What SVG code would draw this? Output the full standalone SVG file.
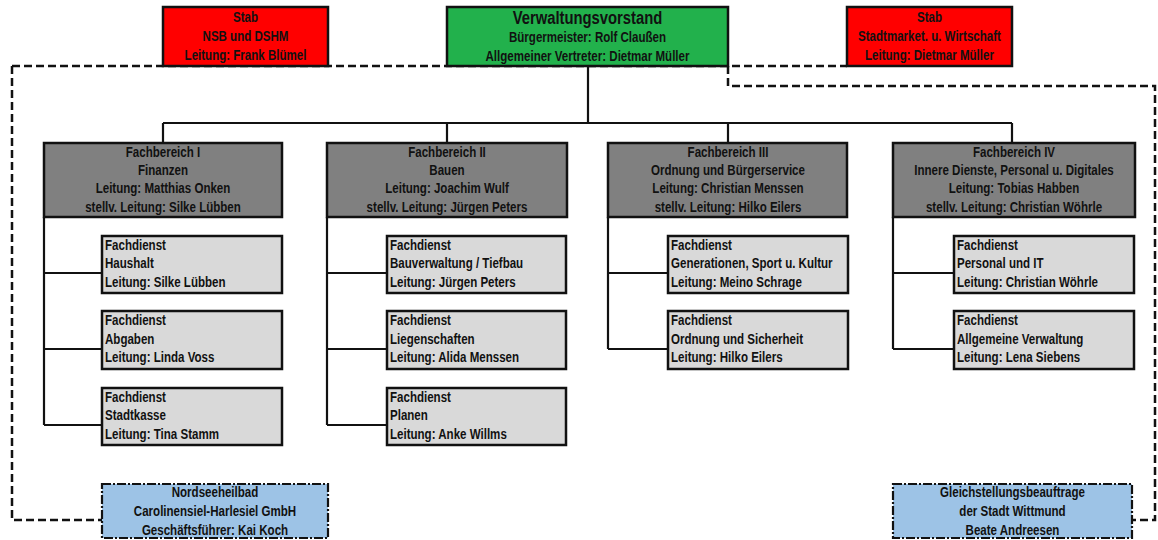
<svg xmlns="http://www.w3.org/2000/svg" width="1158" height="540" viewBox="0 0 1158 540">
<style>
text{font-family:"Liberation Sans",Arial,sans-serif;font-weight:bold;font-size:15px;fill:#111}
.c text{text-anchor:middle}
.box{stroke:#111;stroke-width:2.5}
.stab{fill:#ff0000}
.vv{fill:#22b14c}
.fb{fill:#808080}
.fd{fill:#d9d9d9}
.ext{fill:#9dc3e6;stroke:#111;stroke-width:2.2;stroke-dasharray:9,2,2,2}
.ln{fill:none;stroke:#111;stroke-width:2.2}
.dash{fill:none;stroke:#111;stroke-width:2.5;stroke-dasharray:8,4}
</style>
<g id="connectors">
<path class="dash" d="M12,66 H847"/>
<path class="dash" d="M12,66 V520 H102"/>
<path class="dash" d="M728,66 V86 H1155 V520 H1132"/>
<path class="ln" d="M588,66 V123 M163,123 H1012 M163,123 V143 M447,123 V143 M728,123 V143 M1012,123 V143"/>
<path class="ln" d="M44,217 V425 M44,273 H102 M44,349 H102 M44,425 H102"/>
<path class="ln" d="M327,217 V425 M327,273 H387 M327,349 H387 M327,425 H387"/>
<path class="ln" d="M608,217 V349 M608,273 H668 M608,349 H668"/>
<path class="ln" d="M893,217 V349 M893,273 H954 M893,349 H954"/>
</g>
<g id="stab-nsb">
<rect class="box stab" x="163" y="7" width="165" height="59"/>
<g class="c" transform="translate(245.5,0) scale(0.77,1)">
<text x="0" y="22">Stab</text>
<text x="0" y="41">NSB und DSHM</text>
<text x="0" y="60">Leitung: Frank Blümel</text>
</g>
</g>
<g id="verwaltungsvorstand">
<rect class="box vv" x="447" y="7" width="281" height="59"/>
<g class="c" transform="translate(587.5,0) scale(0.78,1)">
<text x="0" y="24" style="font-size:19px">Verwaltungsvorstand</text>
</g>
<g class="c" transform="translate(587.5,0) scale(0.77,1)">
<text x="0" y="42">Bürgermeister: Rolf Claußen</text>
<text x="0" y="61">Allgemeiner Vertreter: Dietmar Müller</text>
</g>
</g>
<g id="stab-wirtschaft">
<rect class="box stab" x="847" y="7" width="165" height="59"/>
<g class="c" transform="translate(929.5,0) scale(0.77,1)">
<text x="0" y="22">Stab</text>
<text x="0" y="41">Stadtmarket. u. Wirtschaft</text>
<text x="0" y="60">Leitung: Dietmar Müller</text>
</g>
</g>
<g id="fb1">
<rect class="box fb" x="44" y="143" width="238" height="74"/>
<g class="c" transform="translate(163,0) scale(0.77,1)">
<text x="0" y="157">Fachbereich I</text>
<text x="0" y="175">Finanzen</text>
<text x="0" y="193">Leitung: Matthias Onken</text>
<text x="0" y="212">stellv. Leitung: Silke Lübben</text>
</g>
</g>
<g id="fb2">
<rect class="box fb" x="327" y="143" width="240" height="74"/>
<g class="c" transform="translate(447,0) scale(0.77,1)">
<text x="0" y="157">Fachbereich II</text>
<text x="0" y="175">Bauen</text>
<text x="0" y="193">Leitung: Joachim Wulf</text>
<text x="0" y="212">stellv. Leitung: Jürgen Peters</text>
</g>
</g>
<g id="fb3">
<rect class="box fb" x="608" y="143" width="239" height="74"/>
<g class="c" transform="translate(728,0) scale(0.77,1)">
<text x="0" y="157">Fachbereich III</text>
<text x="0" y="175">Ordnung und Bürgerservice</text>
<text x="0" y="193">Leitung: Christian Menssen</text>
<text x="0" y="212">stellv. Leitung: Hilko Eilers</text>
</g>
</g>
<g id="fb4">
<rect class="box fb" x="893" y="143" width="242" height="74"/>
<g class="c" transform="translate(1014,0) scale(0.77,1)">
<text x="0" y="157">Fachbereich IV</text>
<text x="0" y="175">Innere Dienste, Personal u. Digitales</text>
<text x="0" y="193">Leitung: Tobias Habben</text>
<text x="0" y="212">stellv. Leitung: Christian Wöhrle</text>
</g>
</g>
<g id="fd-haushalt">
<rect class="box fd" x="102" y="236" width="180" height="57"/>
<g transform="translate(105,0) scale(0.77,1)"><text x="0" y="250">Fachdienst</text><text x="0" y="268.5">Haushalt</text><text x="0" y="287">Leitung: Silke Lübben</text></g>
</g>
<g id="fd-abgaben">
<rect class="box fd" x="102" y="311" width="180" height="58"/>
<g transform="translate(105,0) scale(0.77,1)"><text x="0" y="325.5">Fachdienst</text><text x="0" y="344">Abgaben</text><text x="0" y="362.5">Leitung: Linda Voss</text></g>
</g>
<g id="fd-stadtkasse">
<rect class="box fd" x="102" y="388" width="180" height="57"/>
<g transform="translate(105,0) scale(0.77,1)"><text x="0" y="402">Fachdienst</text><text x="0" y="420.5">Stadtkasse</text><text x="0" y="439">Leitung: Tina Stamm</text></g>
</g>
<g id="fd-bauverwaltung">
<rect class="box fd" x="387" y="236" width="179" height="57"/>
<g transform="translate(390,0) scale(0.77,1)"><text x="0" y="250">Fachdienst</text><text x="0" y="268.5">Bauverwaltung / Tiefbau</text><text x="0" y="287">Leitung: Jürgen Peters</text></g>
</g>
<g id="fd-liegenschaften">
<rect class="box fd" x="387" y="311" width="179" height="58"/>
<g transform="translate(390,0) scale(0.77,1)"><text x="0" y="325.5">Fachdienst</text><text x="0" y="344">Liegenschaften</text><text x="0" y="362.5">Leitung: Alida Menssen</text></g>
</g>
<g id="fd-planen">
<rect class="box fd" x="387" y="388" width="179" height="57"/>
<g transform="translate(390,0) scale(0.77,1)"><text x="0" y="402">Fachdienst</text><text x="0" y="420.5">Planen</text><text x="0" y="439">Leitung: Anke Willms</text></g>
</g>
<g id="fd-generationen">
<rect class="box fd" x="668" y="236" width="180" height="57"/>
<g transform="translate(671,0) scale(0.77,1)"><text x="0" y="250">Fachdienst</text><text x="0" y="268.5">Generationen, Sport u. Kultur</text><text x="0" y="287">Leitung: Meino Schrage</text></g>
</g>
<g id="fd-ordnung">
<rect class="box fd" x="668" y="311" width="180" height="58"/>
<g transform="translate(671,0) scale(0.77,1)"><text x="0" y="325.5">Fachdienst</text><text x="0" y="344">Ordnung und Sicherheit</text><text x="0" y="362.5">Leitung: Hilko Eilers</text></g>
</g>
<g id="fd-personal">
<rect class="box fd" x="954" y="236" width="180" height="57"/>
<g transform="translate(957,0) scale(0.77,1)"><text x="0" y="250">Fachdienst</text><text x="0" y="268.5">Personal und IT</text><text x="0" y="287">Leitung: Christian Wöhrle</text></g>
</g>
<g id="fd-verwaltung">
<rect class="box fd" x="954" y="311" width="180" height="58"/>
<g transform="translate(957,0) scale(0.77,1)"><text x="0" y="325.5">Fachdienst</text><text x="0" y="344">Allgemeine Verwaltung</text><text x="0" y="362.5">Leitung: Lena Siebens</text></g>
</g>
<g id="nordseeheilbad">
<rect class="ext" x="102" y="484" width="226" height="54"/>
<g class="c" transform="translate(215,0) scale(0.77,1)">
<text x="0" y="497">Nordseeheilbad</text>
<text x="0" y="516">Carolinensiel-Harlesiel GmbH</text>
<text x="0" y="535">Geschäftsführer: Kai Koch</text>
</g>
</g>
<g id="gleichstellung">
<rect class="ext" x="893" y="484" width="239" height="54"/>
<g class="c" transform="translate(1012.5,0) scale(0.77,1)">
<text x="0" y="497">Gleichstellungsbeauftrage</text>
<text x="0" y="516">der Stadt Wittmund</text>
<text x="0" y="535">Beate Andreesen</text>
</g>
</g>
</svg>
